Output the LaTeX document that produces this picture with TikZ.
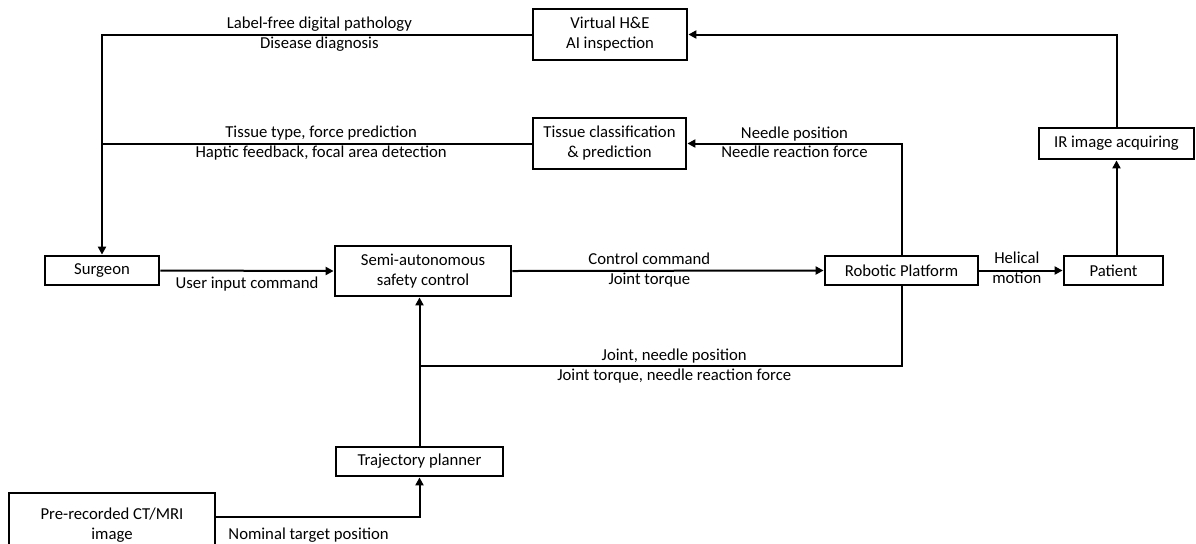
\documentclass[tikz,border=0pt]{standalone}
\usepackage{fontspec}
\setmainfont{Carlito}
\usetikzlibrary{arrows.meta}

\tikzset{
  box/.style={draw, line width=1.4pt, inner sep=0pt, align=center,
    font=\fontsize{8.35}{10}\selectfont},
  conn/.style={line width=1pt},
  arr/.style={conn, -{Triangle[length=4pt,width=4pt]}},
  lab/.style={inner sep=0pt, font=\fontsize{8.35}{10}\selectfont,
    text height=6pt, text depth=1.8pt, align=center},
}

\begin{document}
\begin{tikzpicture}[x=0.5pt,y=-0.5pt]
\useasboundingbox (0,0) rectangle (1196,543);

% processing blocks
\node[box, minimum width=77pt, minimum height=25.5pt] (virt) at (610,34.5) {Virtual H\&E\\AI inspection};
\node[box, minimum width=76.5pt, minimum height=25.5pt] (tiss) at (609.5,143.5) {Tissue classification\\\& prediction};
\node[box, minimum width=77.5pt, minimum height=15.5pt] (ir) at (1116.5,143.5) {IR image acquiring};
\node[box, minimum width=57pt, minimum height=14.5pt] (surg) at (102,270.5) {Surgeon};
\node[box, minimum width=88pt, minimum height=25pt] (semi) at (423,271) {Semi-autonomous\\safety control};
\node[box, minimum width=76.5pt, minimum height=14.5pt] (robo) at (901.5,270.5) {Robotic Platform};
\node[box, minimum width=49.5pt, minimum height=14.5pt] (pat) at (1113.5,270.5) {Patient};
\node[box, minimum width=83.5pt, minimum height=14.5pt] (traj) at (419.5,461.5) {Trajectory planner};
\node[box, minimum width=103pt, minimum height=32pt] (pre) at (112,525) {Pre-recorded CT/MRI\\image};

\coordinate (jn) at (420,366);

% feedback to the surgeon
\draw[arr] (virt.west) -| (surg.north)
  node[lab, pos=0.247, yshift=5pt] {Label-free digital pathology}
  node[lab, pos=0.247, yshift=-5pt] {Disease diagnosis};
\draw[conn] (tiss.west) -- (tiss.west -| surg.north)
  node[lab, pos=0.49, yshift=5pt] {Tissue type, force prediction}
  node[lab, pos=0.49, yshift=-5pt] {Haptic feedback, focal area detection};

% sensing loops
\draw[arr] (robo.north) |- (tiss.east)
  node[lab, pos=0.75, yshift=4.5pt] {Needle position}
  node[lab, pos=0.75, yshift=-5pt] {Needle reaction force};
\draw[arr] (pat.north -| ir.south) -- (ir.south);
\draw[arr] (ir.north) |- (virt.east);

% control chain
\draw[arr] (surg.east) -- (semi.west)
  node[lab, pos=0.5, yshift=-7pt] {User input command};
\draw[arr] (semi.east) -- (robo.west)
  node[lab, pos=0.44, yshift=5pt] {Control command}
  node[lab, pos=0.44, yshift=-5pt] {Joint torque};
\draw[arr] (robo.east) -- (pat.west)
  node[lab, pos=0.45, yshift=5.5pt] {Helical}
  node[lab, pos=0.45, yshift=-4.5pt] {motion};
\draw[conn] (robo.south) |- (jn)
  node[lab, pos=0.736, yshift=5pt] {Joint, needle position}
  node[lab, pos=0.736, yshift=-5pt] {Joint torque, needle reaction force};
\draw[arr] (traj.north) -- (semi.south -| traj.north);
\draw[arr] ([yshift=-12.5pt]pre.north east) -| (traj.south)
  node[lab, pos=0.227, yshift=-9.5pt] {Nominal target position};
\end{tikzpicture}
\end{document}
